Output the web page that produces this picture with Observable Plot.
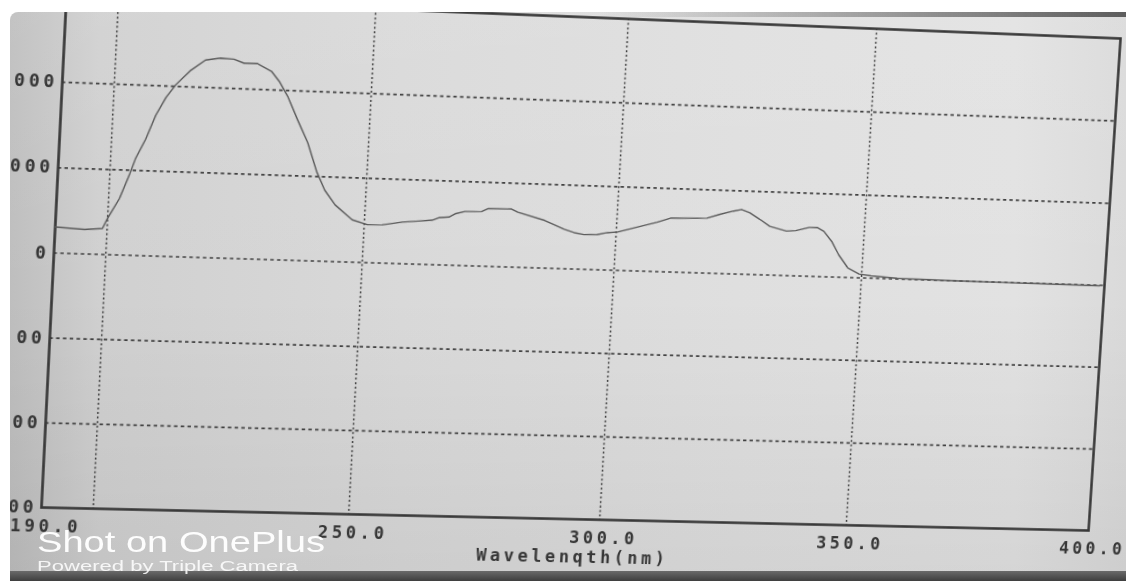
<!DOCTYPE html>
<html>
<head>
<meta charset="utf-8">
<script src="https://cdn.jsdelivr.net/npm/d3@7"></script>
<script src="https://cdn.jsdelivr.net/npm/@observablehq/plot@0.6"></script>
<style>
  html, body { margin: 0; padding: 0; width: 1126px; height: 581px; overflow: hidden; background: #ffffff; }
  #screen { position: absolute; left: 10px; top: 12px; width: 1116px; height: 569px;
    border-top-left-radius: 8px;
    background: linear-gradient(90deg, #bebebe 0%, #d0d0d0 8%, #d9d9d9 35%, #dfdfdf 65%, #e2e2e2 90%, #dadada 100%); }
  #shade { position: absolute; left: 10px; top: 12px; width: 1116px; height: 569px;
    background: linear-gradient(180deg, rgba(255,255,255,0.08) 0%, rgba(0,0,0,0) 50%, rgba(0,0,0,0.06) 100%); }
  #bezel { position: absolute; left: 600px; top: 12px; width: 526px; height: 5px;
    background: linear-gradient(90deg, rgba(70,70,70,0), rgba(70,70,70,0.85)); z-index: 6; }
  #chartwrap { position: absolute; left: 0; top: 0; width: 1126px; height: 581px; transform-origin: 0 0; z-index: 2; }
  #maskTop { position: absolute; left: 0; top: 0; width: 1126px; height: 12px; background: #fff; z-index: 5; }
  #maskLeft { position: absolute; left: 0; top: 0; width: 10px; height: 581px; background: #fff; z-index: 5; }
  #bottomStrip { position: absolute; left: 10px; top: 571px; width: 1116px; height: 10px;
    background: linear-gradient(180deg, #6a6a6a, #3e3e3e); z-index: 6; }
  #mark { position: absolute; left: 0; top: 0; z-index: 7; }
</style>
</head>
<body>
<div id="screen"></div>
<div id="shade"></div>
<div id="chartwrap"></div>
<div id="maskTop"></div>
<div id="maskLeft"></div>
<div id="bezel"></div>
<div id="bottomStrip"></div>
<svg id="mark" width="1126" height="581">
  <text x="37" y="551.5" font-family="'Liberation Sans', Arial, sans-serif" font-size="30" fill="#ffffff" fill-opacity="0.96" textLength="288" lengthAdjust="spacingAndGlyphs">Shot on OnePlus</text>
  <text x="37" y="571" font-family="'Liberation Sans', Arial, sans-serif" font-size="14" fill="#ffffff" fill-opacity="0.85" textLength="261" lengthAdjust="spacingAndGlyphs">Powered by Triple Camera</text>
</svg>
<script>
// ---- data ----
const wavelength = [190.0,195.7,199.1,199.9,202.1,203.8,204.8,206.6,208.3,210.1,211.9,214.5,217.4,220.3,222.9,224.9,227.4,230.3,231.9,233.7,235.9,238.1,240.2,241.9,244.1,247.6,250.6,253.5,257.5,260.6,263.3,264.6,266.6,267.8,269.7,273.0,274.3,278.9,280.2,285.6,289.6,291.6,293.6,296.2,298.2,300.3,303.4,308.1,310.7,318.0,320.6,323.3,324.9,326.6,328.7,330.8,334.2,336.1,338.8,340.4,341.8,343.6,345.1,347.1,349.5,351.9,357.3,370.0,385.0,399.0];
const signal = [305,287,306,415,664,947,1135,1371,1653,1866,2021,2188,2322,2351,2344,2301,2305,2219,2105,1934,1657,1394,1049,842,671,502,450,454,495,512,528,560,572,613,644,650,687,692,656,569,471,435,415,420,447,460,513,591,645,659,710,755,776,741,666,585,536,544,588,591,547,422,270,117,45,29,8,0,-3,-5];

const xTicks = [190, 250, 300, 350, 400];
const xTickLabels = ["190.0", "250.0", "300.0", "350.0", "400.0"];
const xGrid = [200, 250, 300, 350];
const yTicks = [2000, 1000, 0, -1000, -2000, -3000];
const yTickLabels = ["000", "000", "0", "00", "00", "00"];
const yGrid = [2000, 1000, 0, -1000, -2000];
const xTitle = "Wavelenqth(nm)";

const data = wavelength.map((w, i) => ({w, s: signal[i]}));
const xLabelOf = new Map(xTicks.map((v, i) => [v, xTickLabels[i]]));
const yLabelOf = new Map(yTicks.map((v, i) => [v, yTickLabels[i]]));

const M = {left: 66, right: 6, top: 10, bottom: 60};
const W = 1126, H = 581;

const chart = Plot.plot({
  width: W, height: H,
  marginLeft: M.left, marginRight: M.right, marginTop: M.top, marginBottom: M.bottom,
  x: {domain: [190, 400]},
  y: {domain: [-3000, 3000]},
  style: {background: "transparent", overflow: "visible", fontFamily: "'DejaVu Sans Mono', monospace", letterSpacing: "3.6px"},
  marks: [
    Plot.ruleX(xGrid, {stroke: "#404040", strokeWidth: 1.5, strokeDasharray: "2,2.6"}),
    Plot.ruleY(yGrid, {stroke: "#404040", strokeWidth: 1.6, strokeDasharray: "3.4,3.2"}),
    Plot.frame({stroke: "#383838", strokeWidth: 2.6}),
    Plot.line(data, {x: "w", y: "s", stroke: "#5a5a5a", strokeWidth: 1.4}),
    Plot.axisY(yTicks, {tickSize: 0, tickPadding: 4, tickFormat: d => yLabelOf.get(d), fontSize: 17.5, fontWeight: "bold", fill: "#363636", label: null}),
    Plot.axisX(xTicks, {tickSize: 0, tickPadding: 12, tickFormat: d => xLabelOf.get(d), dx: 5, fontSize: 17, fontWeight: "bold", fill: "#363636",
      label: xTitle, labelAnchor: "center", labelOffset: 44, labelArrow: "none"})
  ]
});
document.getElementById("chartwrap").appendChild(chart);

// ---- perspective of the photographed screen: map the plot frame onto the photographed quad ----
function solveHomography(src, dst) {
  const A = [], b = [];
  for (let i = 0; i < 4; i++) {
    const [x, y] = src[i], [u, v] = dst[i];
    A.push([x, y, 1, 0, 0, 0, -x * u, -y * u]); b.push(u);
    A.push([0, 0, 0, x, y, 1, -x * v, -y * v]); b.push(v);
  }
  const n = 8;
  for (let c = 0; c < n; c++) {
    let p = c;
    for (let r = c + 1; r < n; r++) if (Math.abs(A[r][c]) > Math.abs(A[p][c])) p = r;
    [A[c], A[p]] = [A[p], A[c]]; [b[c], b[p]] = [b[p], b[c]];
    for (let r = 0; r < n; r++) {
      if (r === c) continue;
      const f = A[r][c] / A[c][c];
      for (let k = c; k < n; k++) A[r][k] -= f * A[c][k];
      b[r] -= f * b[c];
    }
  }
  return b.map((v, i) => v / A[i][i]);
}
const x0 = M.left, x1 = W - M.right, y0 = M.top, y1 = H - M.bottom;
const h = solveHomography(
  [[x0, y0], [x1, y0], [x0, y1], [x1, y1]],
  [[66, -4], [1120, 38], [41, 507], [1088, 530]]
);
document.getElementById("chartwrap").style.transform =
  `matrix3d(${h[0]},${h[3]},0,${h[6]},${h[1]},${h[4]},0,${h[7]},0,0,1,0,${h[2]},${h[5]},0,1)`;
</script>
</body>
</html>
